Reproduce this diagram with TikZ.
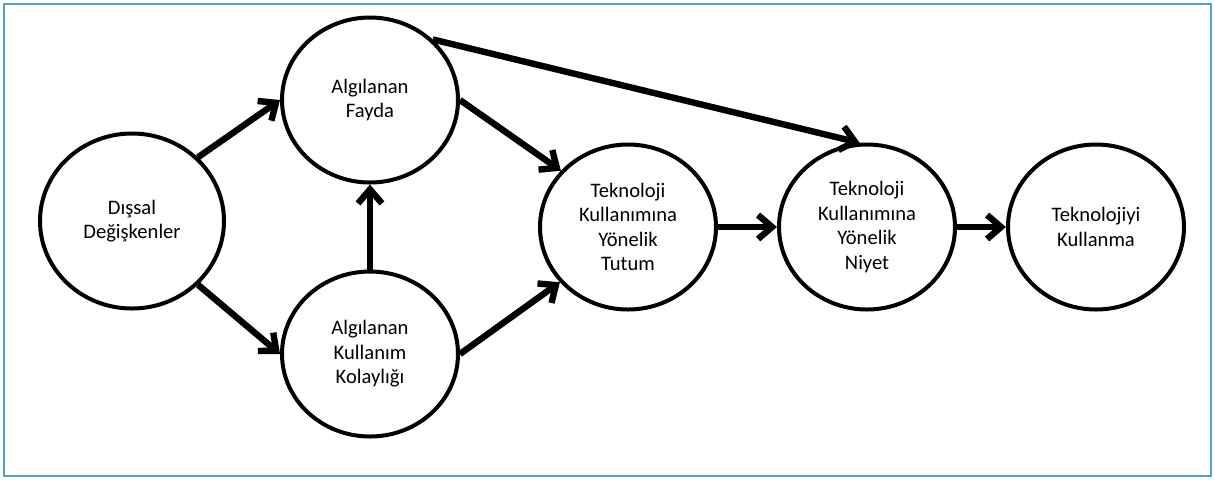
\documentclass[tikz,border=0pt]{standalone}
\usepackage{fontspec}
\setmainfont{Carlito}
\usetikzlibrary{shapes.geometric,arrows.meta}
\definecolor{frameblue}{RGB}{91,155,213}
\tikzset{
      nodese/.style={
          ellipse,
          line width=2pt,
          draw=black,
          align=center,
          inner sep=0pt,
          minimum width=88pt,
          minimum height=82.5pt,
          font=\fontsize{10.3}{12.3}\selectfont
      },
      arr/.style={
          line width=3.2pt,
          -{Straight Barb[length=7pt,width=12pt]}
      }
  }

\begin{document}
\begin{tikzpicture}[x=0.5pt,y=-0.5pt]
    \useasboundingbox (0,0) rectangle (1215,479);
    \draw[frameblue, line width=0.8pt] (4,4) rectangle (1211,476);

    \node [nodese, minimum width=92pt, minimum height=87.5pt] (ds) at (132,221) {Dışsal\\Değişkenler};
    \node [nodese] (af) at (370,100) {Algılanan\\Fayda};
    \node [nodese] (akk) at (370,354) {Algılanan\\Kullanım\\Kolaylığı};
    \node [nodese] (tut) at (628,227) {Teknoloji\\Kullanımına\\Yönelik\\Tutum};
    \node [nodese] (niy) at (867,227) {Teknoloji\\Kullanımına\\Yönelik\\Niyet};
    \node [nodese] (kul) at (1096,227) {Teknolojiyi\\Kullanma};

    \draw[arr] (ds.44) -- (af.west);
    \draw[arr] (ds.-44) -- (akk.west);
    \draw[arr] (akk.north) -- (af.south);
    \draw[arr] (af.east) -- (tut.140);
    \draw[arr] (akk.east) -- (tut.219);
    %%
    \draw[arr] (af.44) -- (niy.95);
    %%
    \draw[arr] (tut) -- (niy);
    \draw[arr] (niy) -- (kul);
\end{tikzpicture}
\end{document}
